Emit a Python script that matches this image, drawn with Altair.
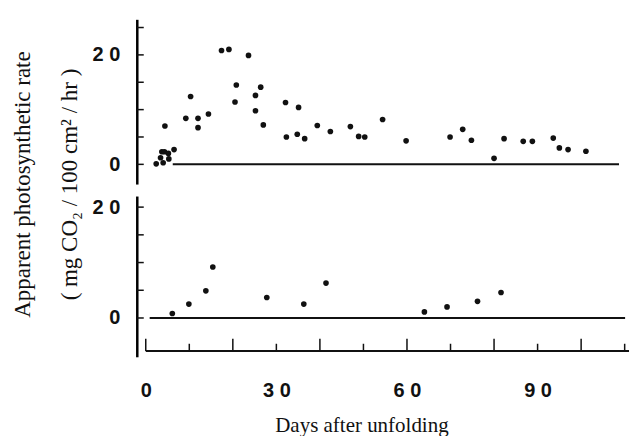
import altair as alt
import pandas as pd

# ---- data ----
days_top = [2.4, 4.0, 3.4, 3.7, 4.3, 5.3, 5.2, 6.5, 4.4, 9.2, 10.3, 12.0, 12.0, 14.4, 17.4,
            19.1, 20.8, 20.5, 23.6, 25.2, 26.4, 25.2, 27.0, 32.1, 35.1, 32.3, 34.8, 36.5, 39.4, 42.4,
            47.0, 48.9, 50.3, 54.4, 59.8, 69.9, 72.8, 74.8, 80.0, 82.3, 86.7, 88.8, 93.6, 95.0, 97.0,
            101.1]
rate_top = [0.1, 0.3, 1.2, 2.3, 2.3, 1.0, 2.0, 2.7, 7.0, 8.4, 12.4, 8.4, 6.7, 9.2, 20.8,
            21.0, 14.5, 11.4, 19.9, 12.6, 14.1, 9.8, 7.2, 11.3, 10.4, 5.0, 5.5, 4.7, 7.1, 6.0,
            6.9, 5.1, 5.0, 8.2, 4.3, 5.0, 6.4, 4.4, 1.1, 4.7, 4.2, 4.2, 4.8, 3.0, 2.7,
            2.4]

days_bot = [6.1, 9.9, 13.8, 15.4, 27.8, 36.3, 41.4, 64.0, 69.2, 76.2, 81.6]
rate_bot = [0.8, 2.5, 4.9, 9.2, 3.7, 2.5, 6.3, 1.1, 2.0, 3.0, 4.6]

zero_line_top = [6.2, 108.7]
zero_line_bot = [0.9, 110.1]

x_domain = [-2.06, 111]
y_domain_top = [-3.6, 26.5]
y_domain_bot = [-7.0, 22.0]

y_ticks_top = [0, 5, 10, 15, 20, 25]
y_ticks_bot = [0, 5, 10, 15, 20]
y_label_values = [0, 20]
x_label_values = [0, 30, 60, 90]
x_tick_values = [0, 10, 20, 30, 40, 50, 60, 70, 80, 90, 100, 110]
x_tick_major = [0, 20, 40, 60, 80, 100]
x_axis_level = -5.95
x_axis_end = 111

# ---- tables ----
df_top = pd.DataFrame({"day": days_top, "v": rate_top})
df_bot = pd.DataFrame({"day": days_bot, "v": rate_bot})
df_zero_top = pd.DataFrame({"day": [zero_line_top[0]], "day2": [zero_line_top[1]], "v": [0]})
df_zero_bot = pd.DataFrame({"day": [zero_line_bot[0]], "day2": [zero_line_bot[1]], "v": [0]})
ytick_len = 1.6
df_yt_top = pd.DataFrame({"day": [x_domain[0]] * len(y_ticks_top),
                          "day2": [x_domain[0] + ytick_len] * len(y_ticks_top), "v": y_ticks_top})
df_yt_bot = pd.DataFrame({"day": [x_domain[0]] * len(y_ticks_bot),
                          "day2": [x_domain[0] + ytick_len] * len(y_ticks_bot), "v": y_ticks_bot})
df_xbase = pd.DataFrame({"day": [0], "day2": [x_axis_end], "v": [x_axis_level]})
df_xt = pd.DataFrame({"day": x_tick_values, "v": [x_axis_level] * len(x_tick_values),
                      "v2": [x_axis_level + (2.2 if d in x_tick_major else 1.3) for d in x_tick_values]})

label_expr = "datum.value == 0 ? '0' : floor(datum.value / 10) + '  ' + (datum.value % 10)"

x_scale = alt.Scale(domain=x_domain, nice=False, zero=False)
W = 493

common_y_axis = dict(values=y_label_values, labelExpr=label_expr, domain=True, domainColor="black",
                     domainWidth=2.5, ticks=False, tickSize=0, grid=False, labelPadding=17,
                     labelFont="Liberation Sans", labelFontWeight="bold", labelFontSize=20,
                     labelColor="#111", labelBaseline="middle")

y_axis_top = alt.Axis(title=["Apparent photosynthetic rate", "( mg CO\u2082 / 100 cm\u00b2 / hr )"],
                      titleAngle=270, titleX=-107, titleY=165, titleAlign="center",
                      titleBaseline="alphabetic", titleLineHeight=47, titleFont="Liberation Serif",
                      titleFontSize=23, titleFontWeight="normal", titleColor="#111",
                      **common_y_axis)
y_axis_bot = alt.Axis(title=None, **common_y_axis)

x_axis_bot = alt.Axis(values=x_label_values, labelExpr=label_expr, domain=False, ticks=False,
                      tickSize=0, grid=False, labelPadding=24, labelFont="Liberation Sans",
                      labelFontWeight="bold", labelFontSize=20, labelColor="#111",
                      title="Days after unfolding", titleFont="Liberation Serif", titleFontSize=21,
                      titleFontWeight="normal", titleColor="#111", titleX=225, titleY=75,
                      titleAlign="center", titleBaseline="alphabetic")

x_top = alt.X("day:Q", scale=x_scale, axis=None)
x_bot = alt.X("day:Q", scale=x_scale, axis=x_axis_bot)
y_top = alt.Y("v:Q", scale=alt.Scale(domain=y_domain_top, nice=False, zero=False), axis=y_axis_top)
y_bot = alt.Y("v:Q", scale=alt.Scale(domain=y_domain_bot, nice=False, zero=False), axis=y_axis_bot)

pts_top = alt.Chart(df_top).mark_circle(size=32, color="#111", opacity=1).encode(x=x_top, y=y_top)
zero_top = alt.Chart(df_zero_top).mark_rule(color="#111", strokeWidth=2).encode(x=x_top, x2="day2:Q", y=y_top)
yt_top = alt.Chart(df_yt_top).mark_rule(color="#111", strokeWidth=1.5).encode(x=x_top, x2="day2:Q", y=y_top)
top = alt.layer(zero_top, yt_top, pts_top).properties(width=W, height=165)

pts_bot = alt.Chart(df_bot).mark_circle(size=32, color="#111", opacity=1).encode(x=x_bot, y=y_bot)
zero_bot = alt.Chart(df_zero_bot).mark_rule(color="#111", strokeWidth=2).encode(x=x_bot, x2="day2:Q", y=y_bot)
yt_bot = alt.Chart(df_yt_bot).mark_rule(color="#111", strokeWidth=1.5).encode(x=x_bot, x2="day2:Q", y=y_bot)
xbase = alt.Chart(df_xbase).mark_rule(color="#111", strokeWidth=2).encode(x=x_bot, x2="day2:Q", y=y_bot)
xt = alt.Chart(df_xt).mark_rule(color="#111", strokeWidth=1.5).encode(x=x_bot, y=y_bot, y2="v2:Q")
bot = alt.layer(zero_bot, yt_bot, xbase, xt, pts_bot).properties(width=W, height=161)

chart = alt.vconcat(top, bot, spacing=12, bounds="flush").properties(
    padding={"left": 12, "top": 19, "right": 11, "bottom": 0},
    background="white",
).configure_view(stroke=None)

chart.save("out.html", embed_options={"renderer": "svg", "actions": False})
